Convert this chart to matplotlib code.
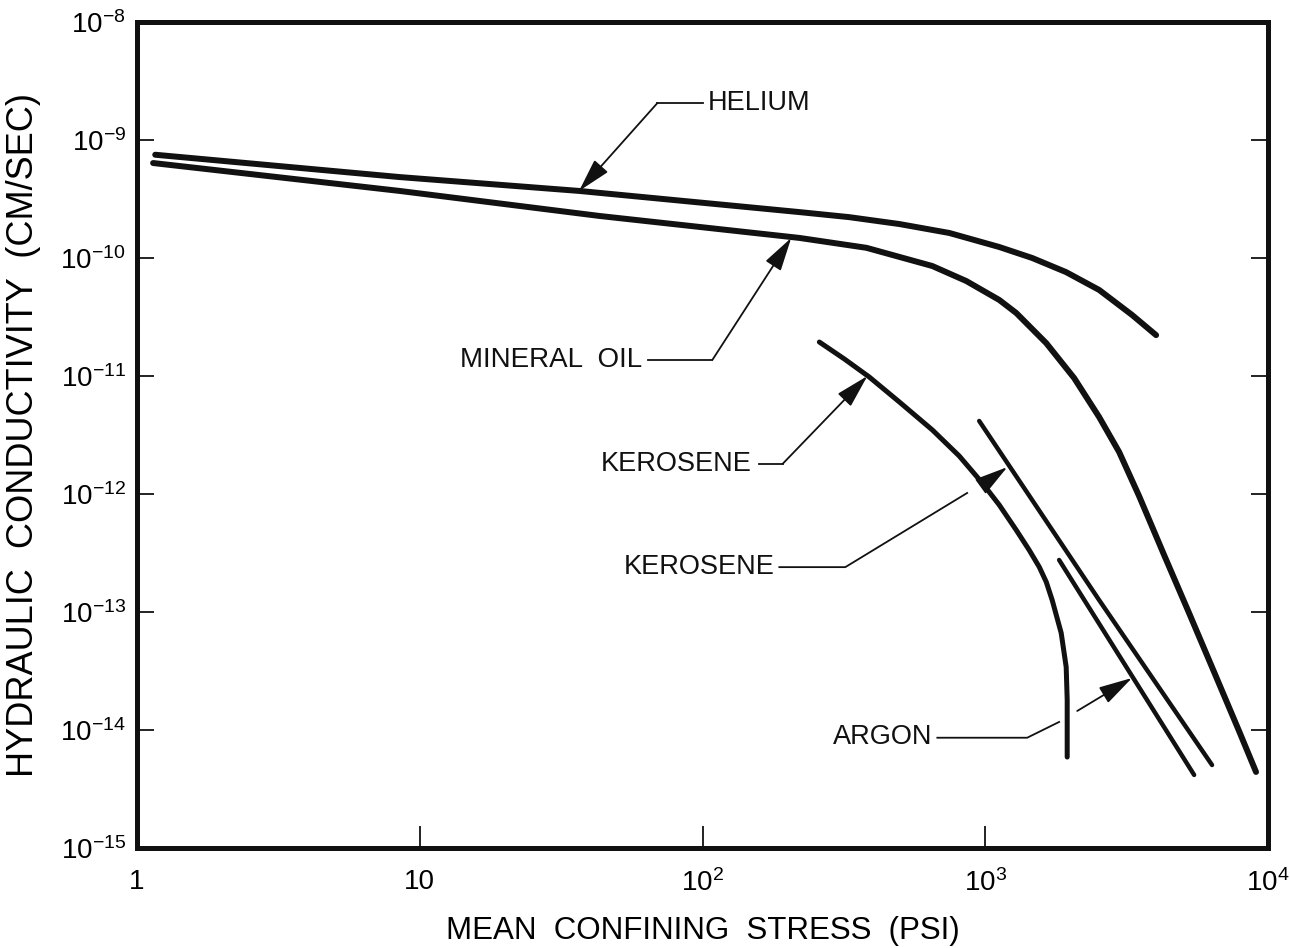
import matplotlib
matplotlib.use('Agg')
import matplotlib.pyplot as plt
from matplotlib.ticker import FixedLocator, NullLocator, FixedFormatter

plt.rcParams['font.family'] = ['Liberation Sans', 'DejaVu Sans']

# ---- data ----
helium_x = [1.16, 8.5, 36.7, 220, 330, 497, 746, 1120, 1466, 1930, 2529, 3306, 4020]
helium_y = [7.5e-10, 4.85e-10, 3.7e-10, 2.45e-10, 2.22e-10, 1.94e-10, 1.63e-10,
            1.24e-10, 1.0e-10, 7.6e-11, 5.36e-11, 3.29e-11, 2.22e-11]

mineral_x = [1.14, 8.5, 43.3, 220, 380, 650, 857, 1121, 1287, 1643, 2063, 2528,
             2975, 3501, 4291, 5258, 6447, 7900, 9071]
mineral_y = [6.38e-10, 3.7e-10, 2.27e-10, 1.48e-10, 1.22e-10, 8.55e-11, 6.38e-11,
             4.41e-11, 3.42e-11, 1.9e-11, 9.6e-12, 4.49e-12, 2.27e-12, 9.6e-13,
             3.04e-13, 9.8e-14, 3.1e-14, 9.8e-15, 4.41e-15]

kero1_x = [259, 318, 389, 497, 650, 809, 976, 1121, 1287, 1430, 1552, 1643, 1725,
           1856, 1933, 1949, 1949]
kero1_y = [1.94e-11, 1.39e-11, 9.8e-12, 6.02e-12, 3.49e-12, 2.1e-12, 1.24e-12,
           8.07e-13, 4.95e-13, 3.35e-13, 2.41e-13, 1.8e-13, 1.26e-13, 6.64e-14,
           3.42e-14, 1.8e-14, 5.9e-15]

kero2_x = [952, 2529, 6340]
kero2_y = [4.16e-12, 1.26e-13, 5.05e-15]

argon_x = [1825, 5480]
argon_y = [2.76e-13, 4.16e-15]

x_ticks = [1, 10, 100, 1000, 10000]
x_tick_labels = ['1', '10', r'$\mathregular{10^2}$', r'$\mathregular{10^3}$', r'$\mathregular{10^4}$']
y_ticks = [1e-15, 1e-14, 1e-13, 1e-12, 1e-11, 1e-10, 1e-9, 1e-8]
y_tick_labels = [r'$\mathregular{10^{-15}}$', r'$\mathregular{10^{-14}}$', r'$\mathregular{10^{-13}}$',
                 r'$\mathregular{10^{-12}}$', r'$\mathregular{10^{-11}}$', r'$\mathregular{10^{-10}}$',
                 r'$\mathregular{10^{-9}}$', r'$\mathregular{10^{-8}}$']

# ---- figure ----
fig = plt.figure(figsize=(12.9, 9.48), dpi=100)
ax = fig.add_axes([137/1290, 1-848/948, (1268-137)/1290, (848-22)/948])
ax.set_xscale('log')
ax.set_yscale('log')
ax.set_xlim(1, 1e4)
ax.set_ylim(1e-15, 1e-8)

k = '#111111'
ax.plot(helium_x, helium_y, color=k, lw=4.3, solid_capstyle='round', solid_joinstyle='round')
ax.plot(mineral_x, mineral_y, color=k, lw=4.3, solid_capstyle='round', solid_joinstyle='round')
ax.plot(kero1_x, kero1_y, color=k, lw=3.6, solid_capstyle='round', solid_joinstyle='round')
ax.plot(kero2_x, kero2_y, color=k, lw=3.2, solid_capstyle='round')
ax.plot(argon_x, argon_y, color=k, lw=3.2, solid_capstyle='round')

for s in ax.spines.values():
    s.set_linewidth(3.6)
    s.set_color(k)

ax.xaxis.set_major_locator(FixedLocator(x_ticks))
ax.xaxis.set_major_formatter(FixedFormatter(x_tick_labels))
ax.xaxis.set_minor_locator(NullLocator())
ax.yaxis.set_major_locator(FixedLocator(y_ticks))
ax.yaxis.set_major_formatter(FixedFormatter(y_tick_labels))
ax.yaxis.set_minor_locator(NullLocator())

ax.tick_params(axis='x', direction='in', length=16, width=1.3, color=k,
               labelsize=20, pad=15, top=False)
ax.tick_params(axis='y', direction='in', length=12, width=1.3, color=k,
               labelsize=20, pad=8, right=True)

ax.set_xlabel('MEAN  CONFINING  STRESS  (PSI)', fontsize=22.5, labelpad=14)
ax.set_ylabel('HYDRAULIC  CONDUCTIVITY  (CM/SEC)', fontsize=26, labelpad=14)

# ---- annotations ----
tfs = 19.5
lw_lead = 1.3
arrow = dict(arrowstyle='-|>,head_length=1.3,head_width=0.35', lw=lw_lead, color=k,
             shrinkA=0, shrinkB=0, mutation_scale=16)

# HELIUM
ax.text(104, 2.06e-9, 'HELIUM', fontsize=tfs, ha='left', va='center', color=k)
ax.plot([100, 69.3], [2.06e-9, 2.06e-9], color=k, lw=lw_lead)
ax.annotate('', xy=(36.6, 3.7e-10), xytext=(69.3, 2.06e-9), arrowprops=arrow)

# MINERAL OIL
ax.text(61, 1.37e-11, 'MINERAL  OIL', fontsize=tfs + 0.5, ha='right', va='center', color=k)
ax.plot([64, 108.4], [1.37e-11, 1.37e-11], color=k, lw=lw_lead)
ax.annotate('', xy=(206, 1.48e-10), xytext=(108.4, 1.37e-11), arrowprops=arrow)

# KEROSENE (upper)
ax.text(149, 1.80e-12, 'KEROSENE', fontsize=tfs, ha='right', va='center', color=k)
ax.plot([159, 192], [1.80e-12, 1.80e-12], color=k, lw=lw_lead)
ax.annotate('', xy=(383, 1.0e-11), xytext=(192, 1.80e-12), arrowprops=arrow)

# KEROSENE (lower)
ax.text(180, 2.40e-13, 'KEROSENE', fontsize=tfs, ha='right', va='center', color=k)
ax.plot([187, 320, 863], [2.40e-13, 2.40e-13, 1.02e-12], color=k, lw=lw_lead)
ax.annotate('', xy=(1197, 1.69e-12), xytext=(1033, 1.31e-12), arrowprops=arrow)

# ARGON
ax.text(650, 8.73e-15, 'ARGON', fontsize=tfs, ha='right', va='center', color=k)
ax.plot([677, 1407, 1825], [8.6e-15, 8.6e-15, 1.17e-14], color=k, lw=lw_lead)
ax.annotate('', xy=(3305, 2.76e-14), xytext=(2115, 1.45e-14), arrowprops=arrow)

fig.savefig('out.png', dpi=100)
